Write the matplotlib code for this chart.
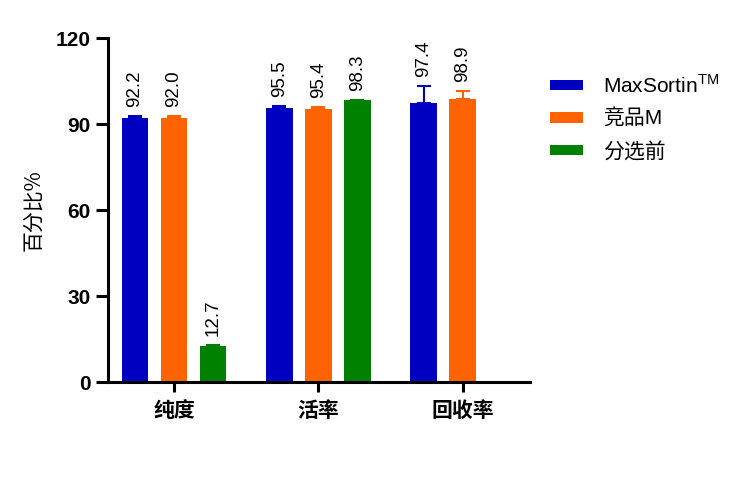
import numpy as np
import matplotlib.pyplot as plt

plt.rcParams['font.family'] = ['Liberation Sans', 'Noto Sans CJK SC', 'DejaVu Sans']
plt.rcParams['mathtext.fontset'] = 'custom'
plt.rcParams['mathtext.rm'] = 'Liberation Sans'

groups = ['纯度', '活率', '回收率']
series = [r'MaxSortin$^{\rm TM}$', '竞品M', '分选前']
colors = ['#0000C0', '#FF6300', '#008000']

# mean values per series (None = no bar)
maxsortin = [92.2, 95.5, 97.4]
competitor = [92.0, 95.4, 98.9]
before = [12.7, 98.3, None]

# upper error (SD)
maxsortin_err = [0.7, 0.8, 5.9]
competitor_err = [0.9, 0.6, 2.8]
before_err = [0.3, 0.2, None]

values = [maxsortin, competitor, before]
errors = [maxsortin_err, competitor_err, before_err]

fig = plt.figure(figsize=(7.45, 4.79), dpi=100)
ax = fig.add_axes([0.145, 0.2025, 0.566, 0.718])

x = np.arange(len(groups))
step = 0.27
width = 0.185

for i, (vals, errs) in enumerate(zip(values, errors)):
    pos = [x[j] + (i - 1) * step for j in range(len(groups)) if vals[j] is not None]
    v = [vals[j] for j in range(len(groups)) if vals[j] is not None]
    e = [errs[j] for j in range(len(groups)) if vals[j] is not None]
    ax.bar(pos, v, width=width, color=colors[i], label=series[i], zorder=2)
    ax.errorbar(pos, v, yerr=[np.zeros(len(e)), e], fmt='none', ecolor=colors[i],
                elinewidth=1.5, capsize=5, capthick=1.5, zorder=1)
    for p, val, err in zip(pos, v, e):
        ax.annotate(f'{val:.1f}', (p, val + err), xytext=(0, 6.5), textcoords='offset points',
                    rotation=90, ha='center', va='bottom', fontsize=13.5)

ax.set_xlim(-0.457, 2.464)
ax.set_ylim(0, 120)
ax.set_yticks([0, 30, 60, 90, 120])
ax.set_xticks(x)
ax.set_xticklabels(groups, fontsize=15, fontweight='bold', family=['Noto Sans CJK SC'])
ax.tick_params(axis='y', labelsize=15, width=2.2, length=9)
ax.tick_params(axis='x', width=2.2, length=7, pad=6)
for lab in ax.get_yticklabels():
    lab.set_fontweight('bold')
ax.set_ylabel('百分比%', fontsize=15, family=['Noto Sans CJK SC', 'DejaVu Sans'], labelpad=8)

for s in ['top', 'right']:
    ax.spines[s].set_visible(False)
for s in ['left', 'bottom']:
    ax.spines[s].set_linewidth(2.2)

leg = ax.legend(loc='upper left', bbox_to_anchor=(1.003, 0.95), frameon=False,
                fontsize=15, handlelength=1.6, handleheight=0.4, labelspacing=0.6,
                handletextpad=0.95)

fig.savefig('out.png', dpi=100)
